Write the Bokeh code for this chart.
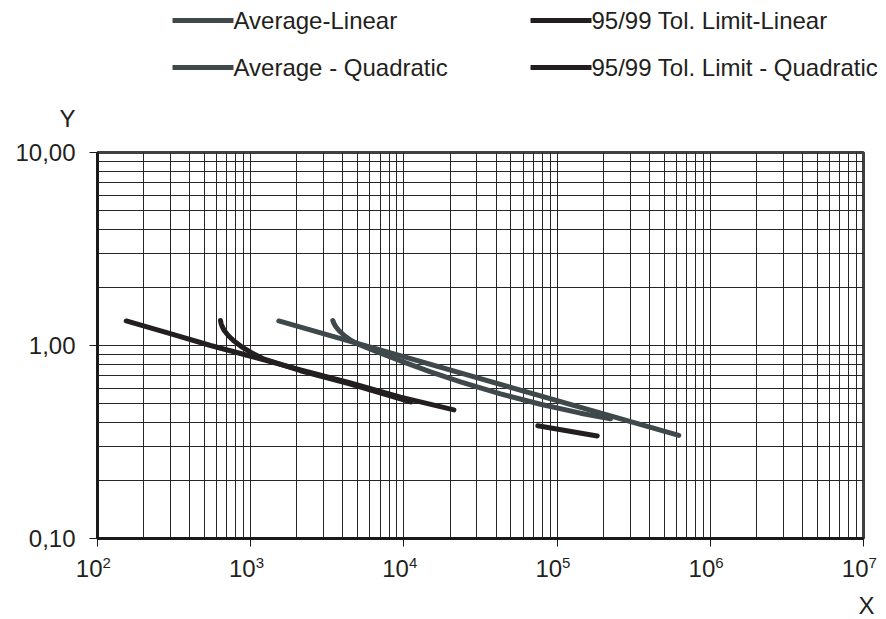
from bokeh.plotting import figure
from bokeh.models import Range1d, FixedTicker
from bokeh.layouts import column
from bokeh.embed import file_html
from bokeh.resources import INLINE
from bokeh.core.properties import value

# ---- curve data (cycles X, stress ratio Y) ----
avg_lin_x = [1525, 622800]
avg_lin_y = [1.34, 0.342]

avg_quad_x = [3435, 3497, 3587, 3765, 4077, 4523, 4979, 7035, 10000, 14920,
              23420, 42700, 77900, 142100, 223200]
avg_quad_y = [1.348, 1.300, 1.254, 1.196, 1.127, 1.061, 1.020, 0.912, 0.820, 0.730,
              0.648, 0.561, 0.496, 0.446, 0.417]

tol_lin_x = [154, 291, 547, 1000, 2113, 4477, 9506, 21200]
tol_lin_y = [1.34, 1.158, 1.00, 0.880, 0.748, 0.639, 0.540, 0.464]

tol_quad_x = [635, 641, 652, 672, 713, 771, 868, 1005, 1198, 2114, 4481, 11045]
tol_quad_y = [1.348, 1.300, 1.254, 1.196, 1.127, 1.061, 0.988, 0.920, 0.856, 0.740,
              0.631, 0.510]
tol_quad2_x = [74800, 182800]
tol_quad2_y = [0.384, 0.340]

series_names = ["Average-Linear", "95/99 Tol. Limit-Linear",
                "Average - Quadratic", "95/99 Tol. Limit - Quadratic"]

x_exponents = [2, 3, 4, 5, 6, 7]
x_ticks = [10 ** e for e in x_exponents]
y_ticks = [0.1, 1, 10]
y_tick_labels = ["0,10", "1,00", "10,00"]

AVG = "#3f494b"
TOL = "#231f20"
INK = "#231f20"
FONT = "Liberation Sans"
W = 886

# plot frame geometry (pixels)
LEFT, RIGHT = 97, 23
DECADE_PX = (W - LEFT - RIGHT) / (x_exponents[-1] - x_exponents[0])


def strip(height, **kw):
    """A bare figure for the text around the chart (y in pixels from the top)."""
    f = figure(width=W, height=height, y_range=Range1d(height, 0),
               toolbar_location=None, output_backend="svg", title=None, min_border=0, **kw)
    f.axis.visible = False
    f.grid.visible = False
    f.outline_line_color = None
    try:
        f.frame_align = False
    except Exception:
        pass
    return f


# ---- legend strip with the "Y" axis name ----
leg = strip(140, x_range=Range1d(0, W))
leg_colors = [AVG, TOL, AVG, TOL]
col_x = [172, 530]
row_y = [20, 67]
for i, name in enumerate(series_names):
    cx = col_x[i % 2]
    ry = row_y[i // 2]
    leg.segment(x0=[cx], y0=[ry], x1=[cx + 61], y1=[ry], line_color=leg_colors[i],
                line_width=5, line_cap="butt")
    leg.text(x=[cx + 61], y=[ry], text=[name], text_font=value(FONT),
             text_font_size="24px", text_align="left", text_baseline="middle",
             text_color=INK)
leg.text(x=[67], y=[118], text=["Y"], text_font=value(FONT), text_font_size="24px",
         text_align="center", text_baseline="middle", text_color=INK)

# ---- main log-log chart ----
p = figure(width=W, height=414, x_axis_type="log", y_axis_type="log",
           x_range=Range1d(x_ticks[0], x_ticks[-1]), y_range=Range1d(y_ticks[0], y_ticks[-1]),
           toolbar_location=None, output_backend="svg", title=None,
           min_border_left=LEFT, min_border_right=RIGHT, min_border_top=12,
           min_border_bottom=16)
try:
    p.frame_align = False
except Exception:
    pass

x_minor = [m * t for t in x_ticks[:-1] for m in range(2, 10)]
y_minor = [m * t for t in y_ticks[:-1] for m in range(2, 10)]
p.xaxis.ticker = FixedTicker(ticks=x_ticks, minor_ticks=x_minor)
p.yaxis.ticker = FixedTicker(ticks=y_ticks, minor_ticks=y_minor)
p.xaxis.major_label_overrides = {t: "" for t in x_ticks}
p.yaxis.major_label_overrides = dict(zip(y_ticks, y_tick_labels))

for g in (p.xgrid, p.ygrid):
    g.grid_line_color = "#262626"
    g.grid_line_width = 1
    g.minor_grid_line_color = "#262626"
    g.minor_grid_line_width = 1

for ax in (p.xaxis, p.yaxis):
    ax.axis_line_width = 3
    ax.axis_line_color = "#1a1a1a"
    ax.major_tick_in = 0
    ax.major_tick_out = 8
    ax.major_tick_line_color = "#1a1a1a"
    ax.minor_tick_in = 0
    ax.minor_tick_out = 0
    ax.major_label_text_font = FONT
    ax.major_label_text_color = INK

p.yaxis.major_label_text_font_size = "24px"
p.yaxis.major_label_standoff = 14
p.xaxis.major_label_text_font_size = "1px"
p.xaxis.major_label_standoff = 0

p.outline_line_color = "#404040"
p.outline_line_width = 3

p.line(avg_lin_x, avg_lin_y, line_color=AVG, line_width=5, line_cap="round")
p.line(tol_lin_x, tol_lin_y, line_color=TOL, line_width=5, line_cap="round",
       line_join="round")
p.line(avg_quad_x, avg_quad_y, line_color=AVG, line_width=5, line_cap="round",
       line_join="round")
p.line(tol_quad_x, tol_quad_y, line_color=TOL, line_width=5, line_cap="round",
       line_join="round")
p.line(tol_quad2_x, tol_quad2_y, line_color=TOL, line_width=5, line_cap="round")

# ---- bottom strip: decade labels 10^n and the "X" axis name ----
# its log x scale spans the whole strip width but lines up with the chart frame
lo = 10 ** (x_exponents[0] - LEFT / DECADE_PX)
hi = 10 ** (x_exponents[-1] + RIGHT / DECADE_PX)
bot = strip(65, x_axis_type="log", x_range=Range1d(lo, hi))
bot.text(x=x_ticks, y=[14] * len(x_ticks), text=["10"] * len(x_ticks),
         text_font=value(FONT), text_font_size="24px", text_align="right",
         text_baseline="middle", x_offset=5, text_color=INK)
bot.text(x=x_ticks, y=[8] * len(x_ticks), text=[str(e) for e in x_exponents],
         text_font=value(FONT), text_font_size="15px", text_align="left",
         text_baseline="middle", x_offset=5, text_color=INK)
bot.text(x=[x_ticks[-1]], y=[51], text=["X"], text_font=value(FONT), text_font_size="24px",
         text_align="center", text_baseline="middle", x_offset=3, text_color=INK)

layout = column(leg, p, bot, spacing=0)
open("out.html", "w").write(file_html(layout, INLINE))
